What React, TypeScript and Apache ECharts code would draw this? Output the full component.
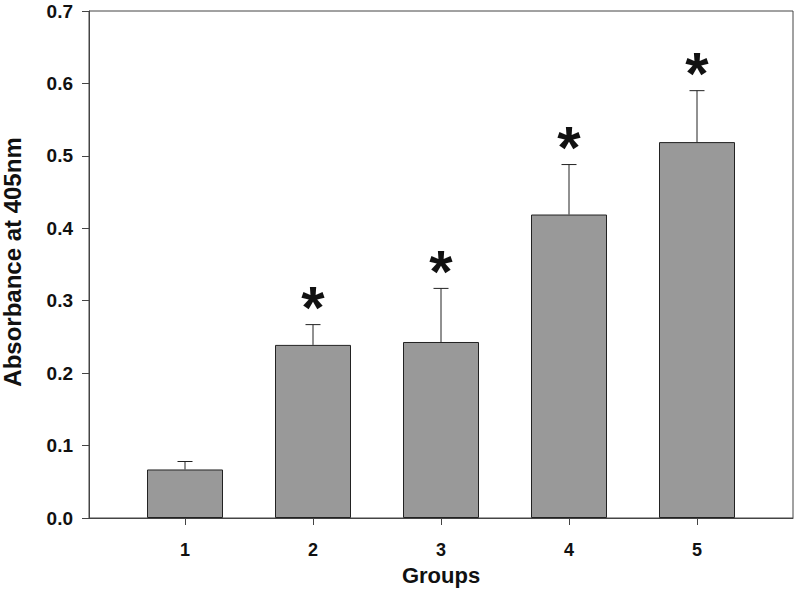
import React, { useEffect, useRef } from "react";
import * as echarts from "echarts";

const groups = [1, 2, 3, 4, 5];
const means = [0.067, 0.239, 0.243, 0.419, 0.519];
const errors = [0.011, 0.028, 0.074, 0.069, 0.071];
const significant = [false, true, true, true, true];
const yTicks = [0, 0.1, 0.2, 0.3, 0.4, 0.5, 0.6, 0.7];
const xTitle = "Groups";
const yTitle = "Absorbance at 405nm";

const FONT = "'Liberation Sans', Arial, sans-serif";

export default function App() {
  const ref = useRef<HTMLDivElement>(null);
  useEffect(() => {
    if (!ref.current) return;
    const chart = echarts.init(ref.current, null, { renderer: "svg" });
    const barData = groups.map((g, i) => [g, means[i]]);
    const errData = groups.map((g, i) => [g, means[i], errors[i], significant[i] ? 1 : 0]);
    chart.setOption({
      animation: false,
      backgroundColor: "#fff",
      textStyle: { fontFamily: FONT },
      grid: {
        left: 89,
        right: 5,
        top: 11,
        bottom: 71,
        show: true,
        containLabel: false,
        outerBoundsMode: "none",
        borderColor: "#444",
        borderWidth: 1,
      },
      graphic: [
        {
          type: "text",
          x: 12,
          y: 262,
          rotation: Math.PI / 2,
          style: {
            text: yTitle,
            fontSize: 24,
            fontWeight: "bold",
            fontFamily: FONT,
            fill: "#111",
            align: "center",
            verticalAlign: "middle",
          },
        },
      ],
      xAxis: {
        type: "value",
        min: 0.25,
        max: 5.75,
        name: xTitle,
        nameLocation: "middle",
        nameGap: 46,
        nameTextStyle: { fontSize: 22, fontWeight: "bold", color: "#111", fontFamily: FONT },
        splitLine: { show: false },
        axisLine: { show: true, lineStyle: { color: "#444", width: 1 } },
        axisTick: {
          show: true,
          length: 7,
          inside: false,
          customValues: groups,
          lineStyle: { color: "#444" },
        },
        axisLabel: {
          customValues: groups,
          margin: 23,
          fontSize: 18,
          fontWeight: "bold",
          color: "#111",
          fontFamily: FONT,
        },
      },
      yAxis: {
        type: "value",
        min: 0,
        max: 0.7,
        interval: 0.1,
        splitLine: { show: false },
        axisLine: { show: true, lineStyle: { color: "#444", width: 1 } },
        axisTick: { show: true, length: 7, inside: false, lineStyle: { color: "#444" } },
        axisLabel: {
          customValues: yTicks,
          margin: 16,
          fontSize: 19,
          fontWeight: "bold",
          color: "#111",
          fontFamily: FONT,
          formatter: (v: number) => v.toFixed(1),
        },
      },
      series: [
        {
          type: "bar",
          data: barData,
          barWidth: 76,
          itemStyle: { color: "#999999", borderColor: "#222", borderWidth: 1 },
        },
        {
          type: "custom",
          data: errData,
          z: 5,
          renderItem: (params: any, api: any) => {
            const x = api.value(0);
            const m = api.value(1);
            const e = api.value(2);
            const sig = api.value(3);
            const base = api.coord([x, m]);
            const top = api.coord([x, m + e]);
            const children: any[] = [
              {
                type: "line",
                shape: { x1: base[0], y1: base[1], x2: top[0], y2: top[1] },
                style: { stroke: "#222", lineWidth: 1 },
              },
              {
                type: "line",
                shape: { x1: top[0] - 7.5, y1: top[1], x2: top[0] + 7.5, y2: top[1] },
                style: { stroke: "#222", lineWidth: 1 },
              },
            ];
            if (sig) {
              children.push({
                type: "text",
                x: top[0],
                y: top[1] - 17,
                style: {
                  text: "*",
                  fontSize: 60,
                  fontWeight: "bold",
                  fontFamily: FONT,
                  fill: "#111",
                  align: "center",
                  verticalAlign: "middle",
                },
              });
            }
            return { type: "group", children };
          },
        },
      ],
    });
    return () => chart.dispose();
  }, []);
  return (
    <div
      ref={ref}
      style={{ position: "fixed", left: 0, top: 0, width: 798, height: 589 }}
    />
  );
}
